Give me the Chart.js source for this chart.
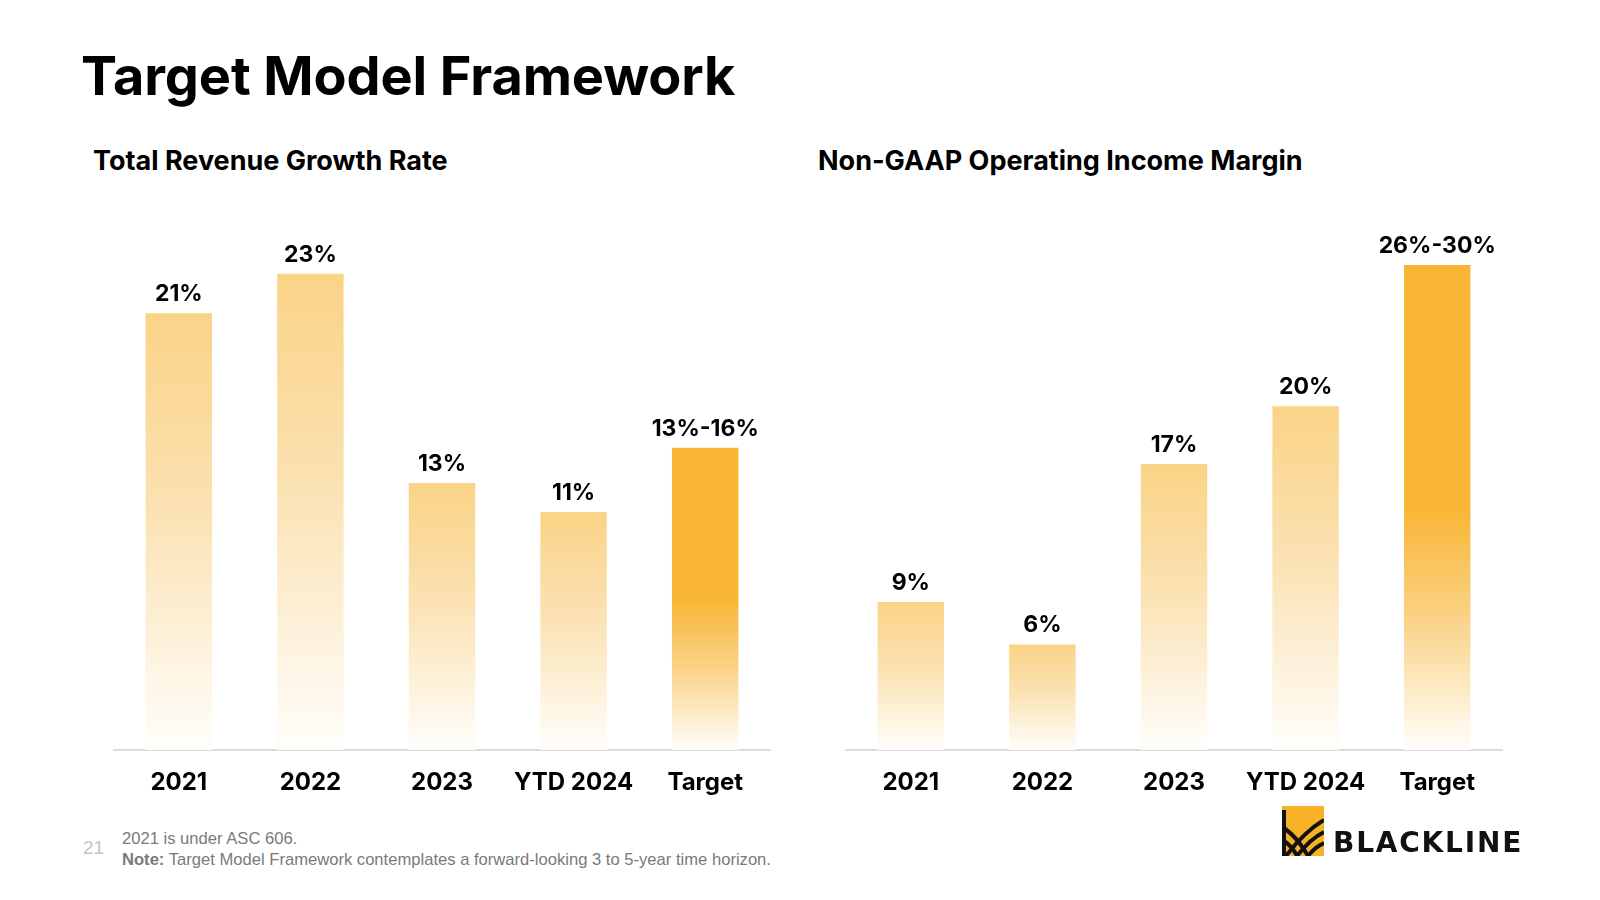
<!DOCTYPE html>
<html>
<head>
<meta charset="utf-8">
<script src="https://cdn.jsdelivr.net/npm/chart.js@4.4.1/dist/chart.umd.min.js"></script>
<style>
  body { margin: 0; width: 1600px; height: 900px; background: #fff; position: relative; overflow: hidden; font-family: Inter, "Noto Sans", sans-serif; }
  .title { position: absolute; left: 81px; top: 44px; font-size: 54px; font-weight: 700; letter-spacing: -0.1px; line-height: 1.2; color: #000; }
  .subtitle { position: absolute; top: 145px; font-size: 27px; font-weight: 700; line-height: 1.2; color: #000; letter-spacing: 0px; }
  canvas { position: absolute; }
  .page-num { position: absolute; left: 83px; top: 837px; font-family: "Liberation Sans", Arial, sans-serif; font-size: 19px; color: #c4c4c4; }
  .foot { position: absolute; left: 122px; font-family: "Liberation Sans", Arial, sans-serif; font-size: 16.6px; color: #7a7a7a; line-height: 1; }
  .logo-text { position: absolute; left: 1333px; top: 829px; font-family: "DejaVu Sans", sans-serif; font-weight: 700; font-size: 28px; color: #111; letter-spacing: 1.8px; line-height: 1; }
  .logo-mark { position: absolute; left: 1282px; top: 806px; }
</style>
</head>
<body>
<div class="title">Target Model Framework</div>
<div class="subtitle" style="left:93px">Total Revenue Growth Rate</div>
<div class="subtitle" style="left:818px">Non-GAAP Operating Income Margin</div>

<canvas id="revenueChart" width="658" height="620" style="left:113px; top:190px"></canvas>
<canvas id="marginChart" width="658" height="620" style="left:845px; top:190px"></canvas>

<div class="page-num">21</div>
<div class="foot" style="top:831px">2021 is under ASC 606.</div>
<div class="foot" style="top:852px"><b>Note:</b> Target Model Framework contemplates a forward-looking 3 to 5-year time horizon.</div>

<svg class="logo-mark" width="42" height="50" viewBox="0 0 42 50">
  <rect x="0" y="0" width="42" height="50" fill="#F6B126"/>
  <rect x="0" y="4" width="4" height="46" fill="#111"/>
  <g stroke="#111" stroke-width="4" fill="none">
    <path d="M4 50 Q22 26 42 14"/>
    <path d="M15 50 Q28 33 42 26"/>
    <path d="M26 50 Q33 41 42 37"/>
    <path d="M2 22 Q16 32 26 50"/>
    <path d="M2 35 Q10 40 15 50"/>
  </g>
</svg>
<div class="logo-text">BLACKLINE</div>

<script>
// Categories and values
const categories = ['2021', '2022', '2023', 'YTD 2024', 'Target'];

const revenueGrowth = [21.1, 23.0, 12.9, 11.5, 14.6];
const revenueLabels = ['21%', '23%', '13%', '11%', '13%-16%'];

const operatingMargin = [8.7, 6.2, 16.8, 20.2, 28.5];
const marginLabels = ['9%', '6%', '17%', '20%', '26%-30%'];

const TARGET_INDEX = 4;

// Bar fill: each bar fades to white toward the baseline
function barGradient(context) {
    const chart = context.chart;
    if (!chart.chartArea) return '#FAD386';
    const yScale = chart.scales.y;
    const top = yScale.getPixelForValue(context.raw);
    const bottom = yScale.getPixelForValue(0);
    const g = chart.ctx.createLinearGradient(0, top, 0, bottom);

    if (context.dataIndex === TARGET_INDEX) {
        g.addColorStop(0, '#F8B634');
        g.addColorStop(0.5, '#F8B634');
        g.addColorStop(0.72, '#FAD183');
        g.addColorStop(1, '#FFFEFB');
    } else {
        g.addColorStop(0, '#FAD386');
        g.addColorStop(0.45, '#FBE2B3');
        g.addColorStop(1, '#FFFEFB');
    }
    return g;
}

// Value labels above the bars
const valueLabels = {
    id: 'valueLabels',
    afterDatasetsDraw(chart, args, opts) {
        const ctx = chart.ctx;
        const meta = chart.getDatasetMeta(0);
        ctx.save();
        ctx.font = '700 23px Inter, "Noto Sans", sans-serif';
        ctx.fillStyle = '#000';
        ctx.textAlign = 'center';
        ctx.textBaseline = 'alphabetic';
        meta.data.forEach((bar, i) => {
            ctx.fillText(opts.labels[i], bar.x, bar.y - 12);
        });
        ctx.restore();
    }
};

function makeChart(id, values, labels, yMax) {
    const ctx = document.getElementById(id).getContext('2d');
    return new Chart(ctx, {
        type: 'bar',
        data: {
            labels: categories,
            datasets: [{
                data: values,
                backgroundColor: barGradient,
                borderWidth: 0,
                barPercentage: 0.505,
                categoryPercentage: 1
            }]
        },
        options: {
            responsive: false,
            animation: false,
            devicePixelRatio: 1,
            layout: { padding: 0 },
            plugins: {
                legend: { display: false },
                tooltip: { enabled: false },
                valueLabels: { labels: labels }
            },
            scales: {
                x: {
                    grid: { display: false, drawTicks: false },
                    border: { display: true, color: '#DCDCDC', width: 2 },
                    ticks: {
                        color: '#000',
                        padding: 18,
                        font: { family: 'Inter, "Noto Sans", sans-serif', size: 24, weight: '700' }
                    },
                    afterFit: (scale) => { scale.height = 60; }
                },
                y: {
                    display: false,
                    min: 0,
                    max: yMax
                }
            }
        },
        plugins: [valueLabels]
    });
}

makeChart('revenueChart', revenueGrowth, revenueLabels, 27.05);
makeChart('marginChart', operatingMargin, marginLabels, 32.9);
</script>
</body>
</html>
